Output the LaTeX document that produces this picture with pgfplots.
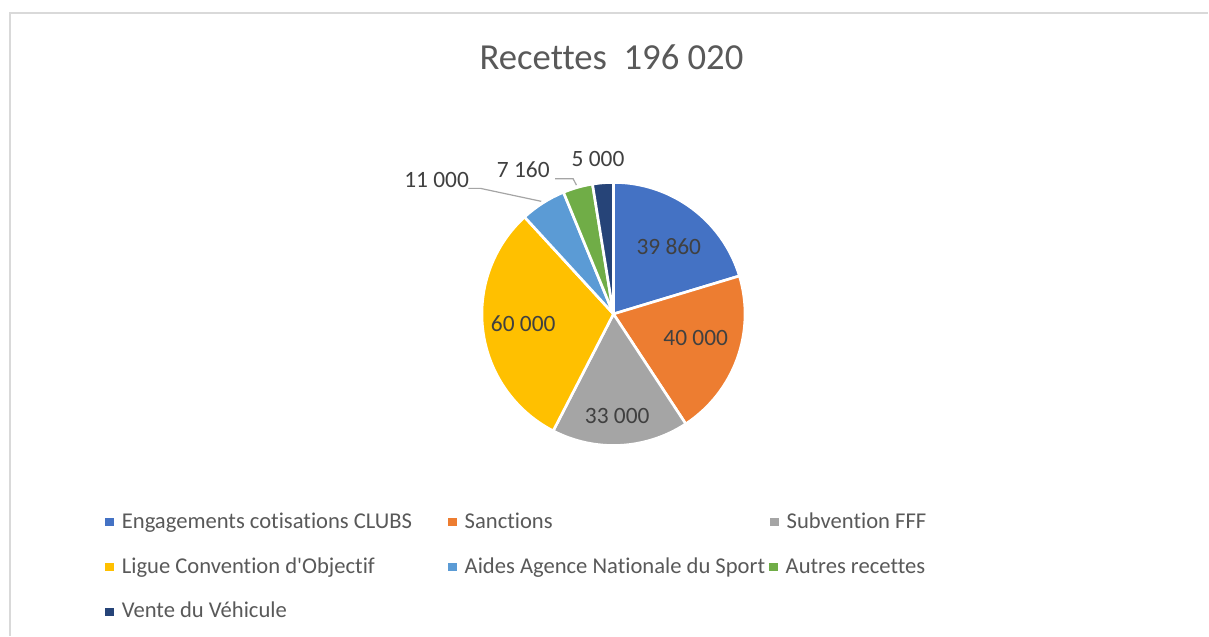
\documentclass[border=0pt]{standalone}
\usepackage{pgfplots}
\pgfplotsset{compat=1.18}
\usepackage{fontspec}
\setmainfont{Carlito}[Ligatures={NoCommon,NoRequired,NoContextual}]
\definecolor{cA}{HTML}{4472C4}
\definecolor{cB}{HTML}{ED7D31}
\definecolor{cC}{HTML}{A5A5A5}
\definecolor{cD}{HTML}{FFC000}
\definecolor{cE}{HTML}{5B9BD5}
\definecolor{cF}{HTML}{70AD47}
\definecolor{cG}{HTML}{264478}
\definecolor{txt}{HTML}{595959}
\definecolor{lbl}{HTML}{404040}
\definecolor{frame}{HTML}{D9D9D9}
% data
\def\vA{39860}\def\vB{40000}\def\vC{33000}\def\vD{60000}
\def\vE{11000}\def\vF{7160}\def\vG{5000}
\edef\tot{\fpeval{\vA+\vB+\vC+\vD+\vE+\vF+\vG}}
\edef\aA{\fpeval{90-360*(\vA)/\tot}}
\edef\aB{\fpeval{\aA-360*(\vB)/\tot}}
\edef\aC{\fpeval{\aB-360*(\vC)/\tot}}
\edef\aD{\fpeval{\aC-360*(\vD)/\tot}}
\edef\aE{\fpeval{\aD-360*(\vE)/\tot}}
\edef\aF{\fpeval{\aE-360*(\vF)/\tot}}
\edef\aG{\fpeval{\aF-360*(\vG)/\tot}}
\def\R{99pt}
\newcommand\slice[3]{\fill[#3, draw=white, line width=2pt, line join=round] (axis cs:615.5,323) -- ++(#1:\R) arc[start angle=#1, end angle=#2, radius=\R] -- cycle;}
\newcommand\legitem[4]{%
  \fill[#3] (axis cs:#1-4.2,#2+2) rectangle (axis cs:#1+4.2,#2+10.4);
  \node[anchor=base west, text=txt, font=\fontsize{17}{20}\selectfont, inner sep=0pt] at (axis cs:#1+12,#2) {#4};}
\begin{document}
\begin{tikzpicture}
\begin{axis}[
  scale only axis, width=906.75pt, height=478.5pt,
  xmin=0, xmax=1209, ymin=0, ymax=638,
  hide axis, clip=false]
\fill[white] (axis cs:0,0) rectangle (axis cs:1209,638);
\draw[frame, line width=1.5pt] (axis cs:10,0) -- (axis cs:10,624.7) -- (axis cs:1212,624.7);
% title
\node[anchor=base, text=txt, font=\fontsize{27.6}{30}\selectfont, inner sep=0pt] at (axis cs:613.5,568.7) {Recettes\ \ 196 020};
% pie
\slice{90}{\aA}{cA}
\slice{\aA}{\aB}{cB}
\slice{\aB}{\aC}{cC}
\slice{\aC}{\aD}{cD}
\slice{\aD}{\aE}{cE}
\slice{\aE}{\aF}{cF}
\slice{\aF}{\aG}{cG}
% leader lines
\draw[cC, line width=0.9pt] (axis cs:470,449) -- (axis cs:482,449) -- (axis cs:543,436);
\draw[cC, line width=0.9pt] (axis cs:557,458.7) -- (axis cs:575,458.7) -- (axis cs:578.3,452.3);
% data labels
\begin{scope}[every node/.style={anchor=base, text=lbl, font=\fontsize{17.6}{20}\selectfont, inner sep=0pt}]
\node at (axis cs:671,383) {39 860};
\node at (axis cs:698,291.3) {40 000};
\node at (axis cs:619.3,213) {33 000};
\node at (axis cs:525,305.3) {60 000};
\node at (axis cs:438,449.7) {11 000};
\node at (axis cs:525,459.7) {7 160};
\node at (axis cs:600,471.3) {5 000};
\end{scope}
% legend
\legitem{110}{108}{cA}{Engagements cotisations CLUBS}
\legitem{454}{108}{cB}{Sanctions}
\legitem{777}{108}{cC}{Subvention FFF}
\legitem{110}{63}{cD}{Ligue Convention d\textquotesingle Objectif}
\legitem{454}{63}{cE}{Aides Agence Nationale du Sport}
\legitem{776}{63}{cF}{Autres recettes}
\legitem{110}{18}{cG}{Vente du Véhicule}
\end{axis}
\end{tikzpicture}
\end{document}
